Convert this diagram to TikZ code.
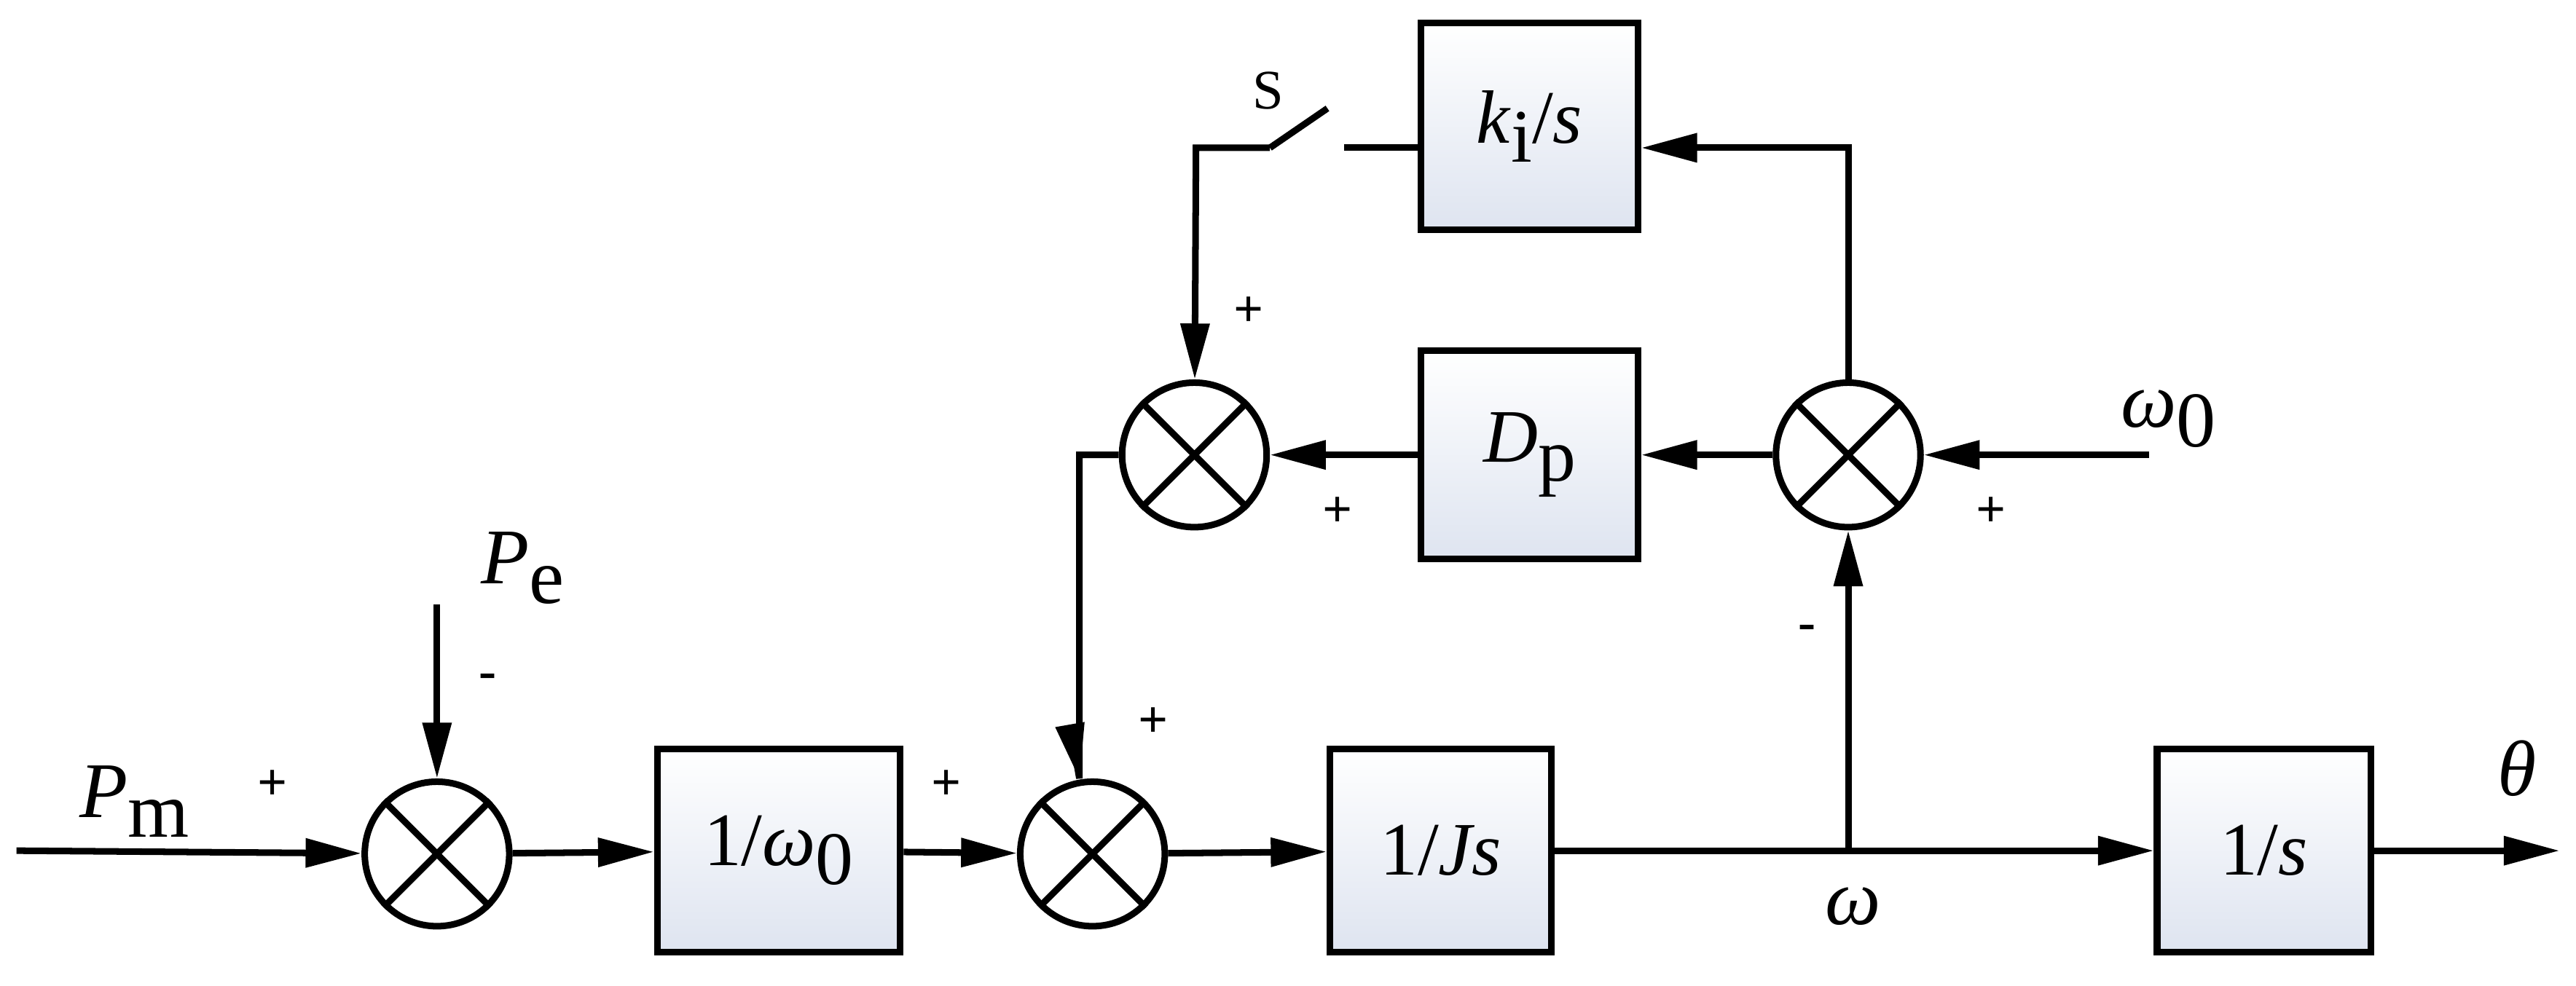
\documentclass[tikz,border=0pt]{standalone}
\usepackage{fontspec}
\setmainfont{LiberationSerif}[Extension=.ttf,UprightFont=*-Regular,ItalicFont=*-Italic,BoldFont=*-Bold,BoldItalicFont=*-BoldItalic]
\usetikzlibrary{arrows.meta}
\begin{document}
\begin{tikzpicture}[x=1pt,y=-1pt,line width=4pt,
  blk/.style={draw,minimum width=#1,minimum height=124pt,top color=white,bottom color={rgb,255:red,222;green,228;blue,240},inner sep=0pt,font=\fontsize{46}{54}\selectfont},
  sj/.style={draw,circle,minimum size=88pt,inner sep=0pt,fill=white},
  arr/.style={-{Triangle[length=34pt,width=17pt]}},
  lbl/.style={font=\fontsize{48}{56}\selectfont},
  sg/.style={font=\fontsize{32}{36}\selectfont\bfseries}]
\useasboundingbox (0,0) rectangle (1568,600);
\node[sj] (j1) at (266,520) {};
\node[sj] (j2) at (665,520) {};
\node[sj] (j3) at (727,277) {};
\node[sj] (j4) at (1125,277) {};
\foreach \j in {j1,j2,j3,j4}{\draw (\j.north west)--(\j.south east) (\j.north east)--(\j.south west);}
\node[blk=148pt] (w0) at (474,518) {1/\textit{ω}\raisebox{-0.25em}{0}};
\node[blk=135pt] (js) at (877,518) {1/\textit{Js}};
\node[blk=130pt] (s) at (1378,518) {1/\textit{s}};
\node[blk=132pt,minimum height=127pt] (dp) at (931,277) {\textit{D}\raisebox{-0.25em}{p}};
\node[blk=132pt,minimum height=126pt] (ki) at (931,77) {\textit{k}\raisebox{-0.25em}{i}/\textit{s}};
\coordinate (pm) at (10,518);
\coordinate (pe) at (266,368);
\coordinate (om) at (1308,277);
\coordinate (br) at (1125,518);
\coordinate (out) at (1558,518);
\coordinate (c1) at (1125,90);
\coordinate (sw1) at (818,90);
\coordinate (sw2) at (773,90);
\coordinate (c2) at (728,90);
\coordinate (c3) at (657,277);
\draw[arr] (pm) -- (j1);
\draw[arr] (pe) -- (j1);
\draw[arr] (j1) -- (w0);
\draw[arr] (w0) -- (j2);
\draw[arr] (j2) -- (js);
\draw (js) -- (br);
\draw[arr] (br) -- (s);
\draw[arr] (s) -- (out);
\draw[arr] (br) -- (j4);
\draw[arr] (om) -- (j4);
\draw[arr] (j4) -- (dp);
\draw[arr] (dp) -- (j3);
\draw[arr] (j4) -- (c1) -- (ki.east |- c1);
\draw (ki.west |- sw1) -- (sw1);
\draw (sw2) -- (808,66);
\draw[arr] (sw2) -- (c2) -- (j3);
\draw[arr] (j3) -- (c3) -- (c3 |- j2.north) -- (j2);
\node[lbl] at (82,488) {\textit{P}\raisebox{-0.25em}{m}};
\node[lbl] at (318,346) {\textit{P}\raisebox{-0.25em}{e}};
\node[lbl] at (1320,255) {\textit{ω}\raisebox{-0.25em}{0}};
\node[lbl] at (1128,552) {\textit{ω}};
\node[lbl] at (1532,468) {\textit{θ}};
\node[font=\fontsize{34}{40}\selectfont] at (772,55) {S};
\node[sg] at (166,478) {+};
\node[sg] at (297,415) {-};
\node[sg] at (576,478) {+};
\node[sg] at (702,440) {+};
\node[sg] at (760,190) {+};
\node[sg] at (814,312) {+};
\node[sg] at (1212,312) {+};
\node[sg] at (1100,385) {-};
\end{tikzpicture}
\end{document}
